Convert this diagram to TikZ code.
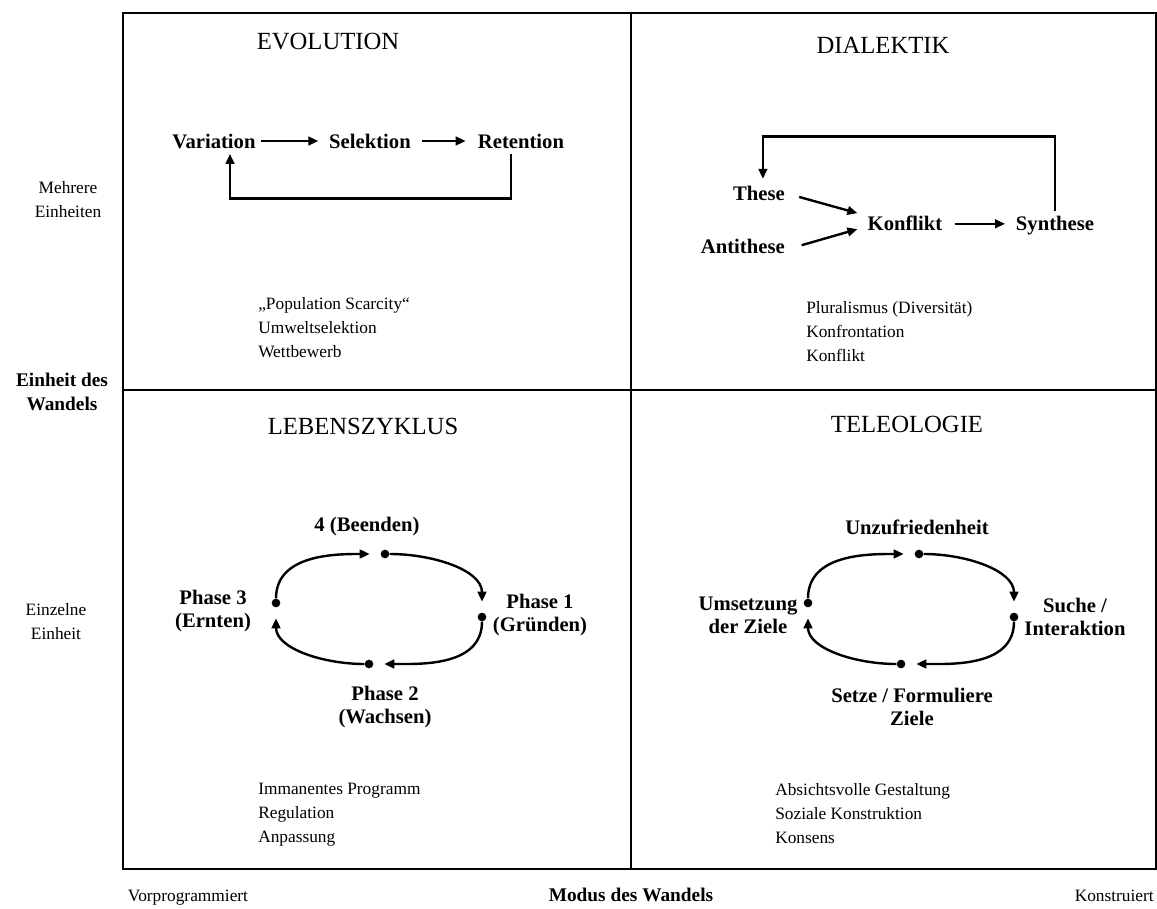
\documentclass[tikz,border=0pt]{standalone}
\usepackage{fontspec}
\setmainfont{Liberation Serif}
\usepackage{tikz}
\usetikzlibrary{arrows.meta,positioning,calc}
\tikzset{
  frame/.style={line width=2.2pt},
  title/.style={font=\fontsize{18.5}{20}\selectfont, inner sep=0pt},
  lbl/.style={font=\bfseries\fontsize{15.5}{17}\selectfont, align=center, inner sep=0pt},
  txt/.style={font=\fontsize{13}{18}\selectfont, align=left, anchor=north west, inner sep=0pt},
  axis/.style={font=\fontsize{13}{18}\selectfont, align=center, inner sep=0pt},
  axisB/.style={axis, font=\bfseries\fontsize{14.5}{18}\selectfont},
  arr/.style={-{Triangle[length=7.5pt,width=6.5pt]}, line width=1.8pt},
  cyc/.style={arr, shorten >=8pt},
  dot/.style={circle, fill, inner sep=0pt, minimum size=6.5pt}
}

\begin{document}
\begin{tikzpicture}[x=0.75pt,y=-0.75pt]
  \useasboundingbox (0,0) rectangle (1157,909);

  % quadrants
  \draw[frame] (123,13) rectangle (1156,869);
  \draw[frame] (631,13) -- (631,869);
  \draw[frame] (123,390) -- (1156,390);

  % axes
  \node[axis]  (mehr)  at (68,200)  {Mehrere\\Einheiten};
  \node[axisB] (einh)  at (62,392)  {Einheit des\\Wandels};
  \node[axis]  (einz)  at (56,622)  {Einzelne\\Einheit};
  \node[axis, anchor=base]  (vorp)  at (188,901) {Vorprogrammiert};
  \node[axisB, anchor=base] (modus) at (631,901) {Modus des Wandels};
  \node[axis, anchor=base east] (konst) at (1154,901) {Konstruiert};

  % Evolution
  \node[title] (evo) at (328,42) {EVOLUTION};
  \node[lbl] (var) at (214,141) {Variation};
  \node[lbl] (sel) at (370,141) {Selektion};
  \node[lbl] (ret) at (521,141) {Retention};
  \draw[arr, shorten <=4pt, shorten >=8pt] (var) -- (sel);
  \draw[arr, shorten <=8pt, shorten >=9pt] (sel) -- (ret);
  \draw[arr, shorten <=4pt, shorten >=4pt] ([xshift=-7.5pt]ret.south) -- ++(0,50) -| ([xshift=12pt]var.south);
  \node[txt] (evotxt) at (258,297) {„Population Scarcity“\\Umweltselektion\\Wettbewerb};

  % Dialektik
  \node[title] (dia) at (883,45) {DIALEKTIK};
  \node[lbl, anchor=east] (these) at (785,193) {These};
  \node[lbl, anchor=east] (anti)  at (785,246) {Antithese};
  \node[lbl, anchor=base] (konf) at (905,231) {Konflikt};
  \node[lbl, anchor=base] (syn)  at (1055,231) {Synthese};
  \draw[arr, shorten <=11pt] (these.east) -- ([shift={(-7.5pt,8pt)}]konf.west);
  \draw[arr, shorten <=13pt] ([yshift=-3pt]anti.east) -- ([shift={(-7.5pt,-4pt)}]konf.west);
  \draw[arr, shorten <=9pt, shorten >=8pt] (konf.east) -- (konf.east -| syn.west);
  \draw[arr, shorten <=4pt, shorten >=5pt] (syn.north) -- ++(0,-80) -| ([xshift=3pt]these.north);
  \node[txt] (diatxt) at (806,301) {Pluralismus (Diversität)\\Konfrontation\\Konflikt};

  % Lebenszyklus
  \node[title] (leb) at (363,426) {LEBENSZYKLUS};
  \node[dot] (lt) at (385,554) {};
  \node[dot] (lr) at (482,617) {};
  \node[dot] (lb) at (369,664) {};
  \node[dot] (ll) at (276,603) {};
  \draw[cyc] (lt) to[out=0,in=90] (lr);
  \draw[cyc] (lr) to[out=-90,in=0] (lb);
  \draw[cyc] (lb) to[out=180,in=-90] (ll);
  \draw[cyc] (ll) to[out=90,in=180] (lt);
  \node[lbl] (p4) at (367,527) {4 (Beenden)};
  \node[lbl] (p1) at (540,615) {Phase 1\\(Gründen)};
  \node[lbl] (p2) at (385,707) {Phase 2\\(Wachsen)};
  \node[lbl] (p3) at (213,611) {Phase 3\\(Ernten)};
  \node[txt] (lebtxt) at (258,783) {Immanentes Programm\\Regulation\\Anpassung};

  % Teleologie
  \node[title] (tel) at (907,424) {TELEOLOGIE};
  \node[dot] (tt) at (919,554) {};
  \node[dot] (tr) at (1014,617) {};
  \node[dot] (tb) at (901,664) {};
  \node[dot] (tl) at (808,603) {};
  \draw[cyc] (tt) to[out=0,in=90] (tr);
  \draw[cyc] (tr) to[out=-90,in=0] (tb);
  \draw[cyc] (tb) to[out=180,in=-90] (tl);
  \draw[cyc] (tl) to[out=90,in=180] (tt);
  \node[lbl] (unz)  at (917,527)  {Unzufriedenheit};
  \node[lbl] (such) at (1075,617) {Suche /\\Interaktion};
  \node[lbl] (setz) at (912,707)  {Setze / Formuliere\\Ziele};
  \node[lbl] (ums)  at (748,615)  {Umsetzung\\der Ziele};
  \node[txt] (teltxt) at (775,783) {Absichtsvolle Gestaltung\\Soziale Konstruktion\\Konsens};
\end{tikzpicture}
\end{document}
